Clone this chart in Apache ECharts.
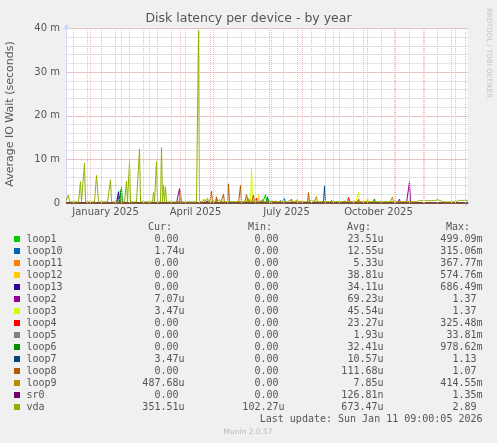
<!DOCTYPE html>
<html>
<head>
<meta charset="utf-8">
<script src="https://cdn.jsdelivr.net/npm/echarts@6/dist/echarts.min.js"></script>
<style>
html,body{margin:0;padding:0;background:#F0F0F0;}
#chart{width:497px;height:443px;}
</style>
</head>
<body>
<div id="chart"></div>
<script>
// ---- axis range and tick labels ----
const xStart = '2024-12-08T00:00:00Z';
const xEnd = '2026-01-13T00:00:00Z';
const xLabels = ['January 2025', 'April 2025', 'July 2025', 'October 2025'];
const xLabelDates = ['2025-01-16', '2025-04-16', '2025-07-16', '2025-10-16'];
const monthStarts = ['2025-01-01','2025-02-01','2025-03-01','2025-04-01','2025-05-01','2025-06-01','2025-07-01','2025-08-01','2025-09-01','2025-10-01','2025-11-01','2025-12-01','2026-01-01'];
const firstMinorGrid = '2024-12-15';
const yTicks = [0, 10, 20, 30, 40];

// ---- series (values in milli-seconds, "m"); days not listed are at baseline ----
const names = ['loop1','loop10','loop11','loop12','loop13','loop2','loop3','loop4','loop5','loop6','loop7','loop8','loop9','sr0','vda'];
const colors = ['#00CC00','#0066B3','#FF8000','#FFCC00','#330099','#990099','#CCFF00','#FF0000','#808080','#008F00','#00487D','#B35A00','#B38F00','#6B006B','#8FB300'];

const loop1 = [['2025-01-31',3.0],['2025-02-20',0.3],['2025-06-25',1.9],['2025-06-26',0.6],['2025-07-08',0.4],['2025-09-18',0.3]];
const loop10 = [['2024-12-30',0.3],['2025-01-30',1.6],['2025-06-28',0.8],['2025-07-14',1.0],['2025-08-22',0.5]];
const loop11 = [['2025-05-07',1.2],['2025-06-10',0.9],['2025-07-30',0.5]];
const loop12 = [['2025-06-07',1.2],['2025-06-18',1.9],['2025-07-25',0.6],['2025-10-05',1.1]];
const loop13 = [['2025-01-10',0.4],['2025-01-29',2.6],['2025-02-10',0.4],['2025-03-20',0.3],['2025-06-20',0.4],['2025-07-18',0.3],['2025-09-10',0.3]];
const loop2 = [['2025-03-31',3.3],['2025-04-28',0.5],['2025-05-16',0.4],['2025-07-03',0.4],['2025-11-06',0.9],['2025-11-16',4.9],['2025-11-21',0.3]];
const loop3 = [['2025-04-25',0.9],['2025-05-04',0.6],['2025-06-11',8.0],['2025-06-12',1.0],['2025-09-26',2.5],['2025-09-27',0.8]];
const loop4 = [['2025-06-16',1.1],['2025-07-02',0.4],['2025-09-16',1.3],['2025-09-17',0.9],['2025-09-26',0.8]];
const loop5 = [['2025-05-25',0.3],['2025-08-02',0.3]];
const loop6 = [['2025-02-01',3.6],['2025-06-27',1.4],['2025-07-05',0.5],['2025-10-12',0.9]];
const loop7 = [['2025-08-23',3.9],['2025-08-24',0.6]];
const loop8 = [['2025-05-02',2.7],['2025-05-07',1.4],['2025-05-14',2.0],['2025-05-19',4.4],['2025-05-31',4.0],['2025-06-06',1.9],['2025-06-07',2.0],['2025-06-13',1.8],['2025-06-22',0.7],['2025-07-10',0.6],['2025-07-21',0.9],['2025-08-07',2.4],['2025-08-30',0.6],['2025-09-12',0.5]];
const loop9 = [['2025-04-01',2.9],['2025-06-08',1.0],['2025-07-27',0.8],['2025-08-15',1.5],['2025-10-30',1.4]];
const sr0 = [['2025-11-19',0.2],['2025-11-22',0.2]];
const vda = [['2024-12-10',1.8],['2024-12-16',0.6],['2024-12-22',4.9],['2024-12-26',9.2],['2025-01-07',6.3],['2025-01-08',6.6],['2025-01-14',0.5],['2025-01-21',5.3],['2025-01-31',1.1],['2025-02-06',5.0],['2025-02-09',9.5],['2025-02-19',12.4],['2025-03-05',2.4],['2025-03-08',9.5],['2025-03-13',12.7],['2025-03-15',4.1],['2025-03-17',3.7],['2025-04-01',1.2],['2025-04-19',39.5],['2025-04-24',0.8],['2025-04-28',1.1],['2025-05-10',0.8],['2025-06-08',0.9],['2025-06-22',0.8],['2025-07-20',0.7],['2025-08-10',0.6],['2025-09-05',0.6],['2025-10-20',0.6],['2025-11-28',0.8],['2025-12-04',0.45],['2025-12-12',0.8],['2025-12-14',0.75],['2026-01-05',0.7],['2026-01-08',0.75]];
const vdaBase = [['2024-12-01',0.25],['2025-04-20',0.3],['2025-11-24',0.55],['2025-12-18',0.25],['2026-01-02',0.6]];

const seriesValues = [loop1,loop10,loop11,loop12,loop13,loop2,loop3,loop4,loop5,loop6,loop7,loop8,loop9,sr0,vda];

// ---- legend table ----
const curVals = ['0.00','1.74u','0.00','0.00','0.00','7.07u','3.47u','0.00','0.00','0.00','3.47u','0.00','487.68u','0.00','351.51u'];
const minVals = ['0.00','0.00','0.00','0.00','0.00','0.00','0.00','0.00','0.00','0.00','0.00','0.00','0.00','0.00','102.27u'];
const avgVals = ['23.51u','12.55u','5.33u','38.81u','34.11u','69.23u','45.54u','23.27u','1.93u','32.41u','10.57u','111.68u','7.85u','126.81n','673.47u'];
const maxVals = ['499.09m','315.06m','367.77m','574.76m','686.49m','1.37','1.37','325.48m','33.81m','978.62m','1.13','1.07','414.55m','1.35m','2.89'];
const colHeaders = ['Cur:','Min:','Avg:','Max:'];
const lastUpdate = 'Last update: Sun Jan 11 09:00:05 2026';

// ---- build daily data ----
const DAY = 86400000;
function baseAt(ts, base) {
  let v = 0;
  if (!base) return 0;
  for (const [d, val] of base) { if (Date.parse(d) <= ts) v = val; }
  return v;
}
function buildSeries(spikes, base) {
  const map = {};
  spikes.forEach(([d, v]) => { map[Date.parse(d)] = v; });
  const out = [];
  for (let t = Date.parse('2024-12-07'); t <= Date.parse('2026-01-14'); t += DAY) {
    out.push([t, map[t] !== undefined ? map[t] : baseAt(t, base)]);
  }
  return out;
}

const minorGrid = [];
for (let t = Date.parse(firstMinorGrid); t <= Date.parse(xEnd); t += 14 * DAY) minorGrid.push({ xAxis: t });

const FONT = '"DejaVu Sans", sans-serif';
const MONO = '"DejaVu Sans Mono", monospace';
const TXT = '#555555';
const GRID_MINOR = '#C8C8C8';
const GRID_MAJOR = '#F2A0A0';
const VGRID_MAJOR = '#F6BCBC';

const series = [
  { type: 'line', data: [], silent: true, z: 1,
    markLine: { silent: true, symbol: ['none','none'], label: { show: false }, animation: false,
      lineStyle: { color: GRID_MINOR, width: 1, type: 'dotted' }, data: minorGrid } },
  { type: 'line', data: [], silent: true, z: 1,
    markLine: { silent: true, symbol: ['none','none'], label: { show: false }, animation: false,
      lineStyle: { color: VGRID_MAJOR, width: 1, type: 'dotted' }, data: monthStarts.map(d => ({ xAxis: Date.parse(d) })) } }
];
names.forEach((n, i) => {
  series.push({
    name: n, type: 'line', yAxisIndex: 1, showSymbol: false, symbol: 'none',
    data: buildSeries(seriesValues[i], n === 'vda' ? vdaBase : null),
    lineStyle: { width: 1, color: colors[i] }, itemStyle: { color: colors[i] },
    animation: false, silent: true, z: 2
  });
});

// legend graphics
const graphic = [];
const rowY0 = 239, rowH = 12;
const colRight = [184.5, 284.5, 383.5, 482.5];
const charW = 6.02;
const cols = [curVals, minVals, avgVals, maxVals];
colHeaders.forEach((h, c) => {
  graphic.push({ type: 'text', style: { text: h, x: colRight[c] - 12.5, y: rowY0 - 11.5, align: 'right', verticalAlign: 'middle', font: '10px ' + MONO, fill: TXT } });
});
names.forEach((n, i) => {
  const y = rowY0 + i * rowH;
  graphic.push({ type: 'rect', shape: { x: 14, y: y - 3, width: 6, height: 6 }, style: { fill: colors[i] } });
  graphic.push({ type: 'text', style: { text: n, x: 26.5, y: y, align: 'left', verticalAlign: 'middle', font: '10px ' + MONO, fill: TXT } });
  cols.forEach((arr, c) => {
    const s = arr[i];
    const hasUnit = /[a-z]$/i.test(s);
    graphic.push({ type: 'text', style: { text: s, x: colRight[c] - (hasUnit ? 0 : charW), y: y, align: 'right', verticalAlign: 'middle', font: '10px ' + MONO, fill: TXT } });
  });
});
graphic.push({ type: 'text', style: { text: lastUpdate, x: 482.5, y: 419, align: 'right', verticalAlign: 'middle', font: '10px ' + MONO, fill: TXT } });
graphic.push({ type: 'text', style: { text: 'Munin 2.0.57', x: 248, y: 432, align: 'center', verticalAlign: 'middle', font: '7.5px ' + FONT, fill: '#BBBBBB' } });
graphic.push({ type: 'text', rotation: Math.PI / 2, x: 10.5, y: 114, style: { text: 'Average IO Wait (seconds)', x: 0, y: 0, align: 'center', verticalAlign: 'middle', font: '11px ' + FONT, fill: TXT } });
graphic.push({ type: 'text', rotation: -Math.PI / 2, x: 488.5, y: 53, style: { text: 'RRDTOOL / TOBI OETIKER', x: 0, y: 0, align: 'center', verticalAlign: 'middle', font: '7px ' + FONT, fill: '#C4C4C4' } });

const chart = echarts.init(document.getElementById('chart'), null, { renderer: 'canvas' });
chart.setOption({
  backgroundColor: '#F0F0F0',
  animation: false,
  title: { text: 'Disk latency per device - by year', left: 'center', top: 12, padding: 0,
    textStyle: { fontFamily: FONT, fontSize: 12.5, fontWeight: 'normal', color: TXT } },
  grid: { left: 66.5, right: 29.5, top: 28.5, bottom: 240, show: true, backgroundColor: '#FFFFFF', borderWidth: 0, containLabel: false },
  xAxis: {
    type: 'value', min: Date.parse(xStart), max: Date.parse(xEnd),
    axisLine: { show: true, onZero: false, lineStyle: { color: '#CFD6F8', width: 1 }, symbol: ['none','arrow'], symbolSize: [6, 6], symbolOffset: [0, 3] },
    axisTick: { show: false },
    splitLine: { show: false },
    axisLabel: {
      customValues: xLabelDates.map(d => Date.parse(d)),
      formatter: (v) => { const i = xLabelDates.findIndex(d => Date.parse(d) === v); return i >= 0 ? xLabels[i] : ''; },
      fontFamily: FONT, fontSize: 10, color: TXT, margin: 4, hideOverlap: false
    }
  },
  yAxis: [
    { type: 'value', position: 'left', min: 0, max: 40, interval: 2,
      axisLine: { show: false }, axisTick: { show: false }, axisLabel: { show: false },
      splitLine: { show: true, lineStyle: { color: GRID_MINOR, width: 1, type: [1,1] } } },
    { type: 'value', position: 'left', min: 0, max: 40, interval: 10,
      axisLine: { show: true, lineStyle: { color: '#CFD6F8', width: 1 }, symbol: ['none','arrow'], symbolSize: [6, 6], symbolOffset: [0, 4.5] },
      axisTick: { show: false },
      axisLabel: { formatter: (v) => yTicks.includes(v) ? (v === 0 ? '0' : v + ' m') : '', fontFamily: FONT, fontSize: 10, color: TXT, margin: 6.5 },
      splitLine: { show: true, lineStyle: { color: GRID_MAJOR, width: 1, type: [1,1] } } }
  ],
  series: series,
  graphic: graphic
});
</script>
</body>
</html>
